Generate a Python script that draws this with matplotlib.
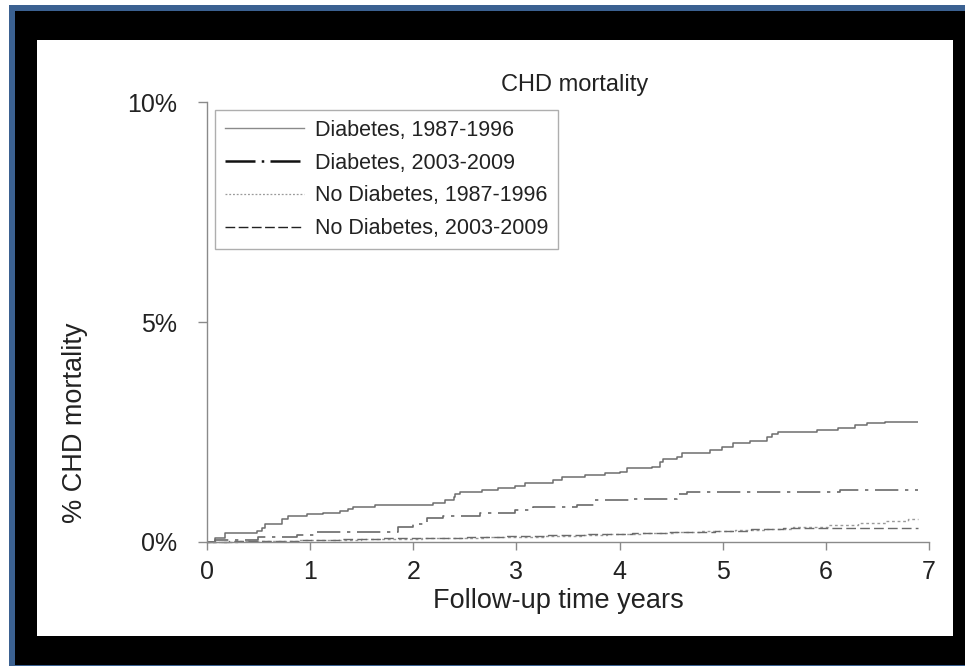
import matplotlib
matplotlib.use("Agg")
import matplotlib.pyplot as plt
from matplotlib.patches import Rectangle
from matplotlib.lines import Line2D

plt.rcParams['font.family'] = ['Liberation Sans', 'DejaVu Sans']

# Cumulative CHD mortality (%) step curves: event times (years) and cumulative values
dm_old_t = [0.0, 0.08, 0.17, 0.48, 0.53, 0.56, 0.73, 0.79, 0.97, 1.12, 1.29, 1.37, 1.42,
            1.63, 2.19, 2.31, 2.39, 2.40, 2.45, 2.67, 2.82, 2.99, 3.08, 3.35, 3.44, 3.66,
            3.86, 4.00, 4.07, 4.31, 4.39, 4.42, 4.56, 4.61, 4.88, 4.99, 5.10, 5.26, 5.43,
            5.48, 5.54, 5.91, 6.12, 6.28, 6.40, 6.57, 6.89]
dm_old_v = [0.0, 0.08, 0.19, 0.25, 0.31, 0.39, 0.51, 0.58, 0.62, 0.66, 0.69, 0.73, 0.79,
            0.83, 0.87, 0.95, 1.01, 1.08, 1.13, 1.17, 1.21, 1.27, 1.33, 1.40, 1.46, 1.51,
            1.55, 1.59, 1.67, 1.70, 1.80, 1.88, 1.93, 2.02, 2.08, 2.16, 2.25, 2.30, 2.39,
            2.46, 2.49, 2.54, 2.59, 2.65, 2.69, 2.73, 2.73]

dm_new_t = [0.0, 0.08, 0.49, 0.87, 1.05, 1.85, 2.00, 2.13, 2.29, 2.65, 2.99, 3.16, 3.59,
            3.76, 4.13, 4.56, 4.65, 6.14, 6.89]
dm_new_v = [0.0, 0.03, 0.10, 0.15, 0.22, 0.32, 0.39, 0.53, 0.58, 0.64, 0.72, 0.78, 0.83,
            0.95, 0.97, 1.08, 1.13, 1.17, 1.17]

nodm_old_t = [0.0, 0.30, 0.62, 0.88, 1.22, 1.49, 1.83, 2.08, 2.41, 2.69, 3.02, 3.28, 3.63,
              3.88, 4.21, 4.52, 4.79, 5.12, 5.41, 5.68, 6.02, 6.31, 6.58, 6.80, 6.89]
nodm_old_v = [0.0, 0.01, 0.02, 0.03, 0.04, 0.05, 0.06, 0.07, 0.08, 0.10, 0.11, 0.13, 0.15,
              0.17, 0.19, 0.21, 0.23, 0.26, 0.29, 0.33, 0.38, 0.43, 0.47, 0.51, 0.51]

nodm_new_t = [0.0, 0.21, 0.52, 0.91, 1.28, 1.71, 2.09, 2.52, 2.88, 3.31, 3.69, 4.12, 4.48,
              4.93, 5.27, 5.58, 6.01, 6.89]
nodm_new_v = [0.0, 0.01, 0.02, 0.04, 0.05, 0.07, 0.09, 0.11, 0.13, 0.15, 0.17, 0.19, 0.22,
              0.25, 0.28, 0.30, 0.31, 0.31]

labels = ["Diabetes, 1987-1996", "Diabetes, 2003-2009",
          "No Diabetes, 1987-1996", "No Diabetes, 2003-2009"]
x_ticks = [0, 1, 2, 3, 4, 5, 6, 7]
y_ticks = [0, 5, 10]
y_tick_labels = ["0%", "5%", "10%"]

W, H = 965, 666
fig = plt.figure(figsize=(W / 100, H / 100), dpi=100)
fig.patch.set_facecolor("white")


def frect(x0, y0, x1, y1, color):
    # rectangle given in pixel coordinates measured from the top-left corner
    fig.patches.append(Rectangle((x0 / W, 1 - y1 / H), (x1 - x0) / W, (y1 - y0) / H,
                                 transform=fig.transFigure, facecolor=color,
                                 edgecolor="none", zorder=-10))


frect(9, 5, W, H, "#3b6191")
frect(15, 11, W, 665, "black")
frect(37, 40, 953, 636, "white")

ax = fig.add_axes([207 / W, 1 - 541.5 / H, (929 - 207) / W, (541.5 - 102.5) / H])
ax.set_facecolor("none")

txt = "#222222"
axcol = "#8a8a8a"

ax.step(dm_old_t, dm_old_v, where="post", color="#6e6e6e", lw=1.1,
        solid_capstyle="butt", clip_on=False)
ax.step(dm_new_t, dm_new_v, where="post", color="#6a6a6a", lw=1.2,
        dashes=(14, 4, 2, 4), clip_on=False)
ax.step(nodm_old_t, nodm_old_v, where="post", color="#9a9a9a", lw=1.0,
        dashes=(2, 2), clip_on=False)
ax.step(nodm_new_t, nodm_new_v, where="post", color="#6a6a6a", lw=1.0,
        dashes=(7, 3), clip_on=False)

ax.set_xlim(0, 7)
ax.set_ylim(0, 10)
for s in ["top", "right"]:
    ax.spines[s].set_visible(False)
for s in ["left", "bottom"]:
    ax.spines[s].set_color(axcol)
    ax.spines[s].set_linewidth(1.0)

ax.set_xticks(x_ticks)
ax.set_xticklabels([str(v) for v in x_ticks])
ax.set_yticks(y_ticks)
ax.set_yticklabels(y_tick_labels)
ax.tick_params(axis="x", direction="out", length=6, width=1.0, color=axcol,
               labelsize=18, labelcolor=txt, pad=7)
ax.tick_params(axis="y", direction="out", length=6.5, width=1.0, color=axcol,
               labelsize=18, labelcolor=txt, pad=15)

fig.text(575 / W, 1 - 85 / H, "CHD mortality", ha="center", va="center",
         fontsize=17, color=txt)
fig.text(558 / W, 1 - 601 / H, "Follow-up time years", ha="center", va="center",
         fontsize=19.5, color=txt)
fig.text(75 / W, 1 - 423 / H, "% CHD mortality", ha="center", va="center",
         rotation=90, fontsize=19.5, color=txt)

# legend handles are drawn darker than the curves
h1 = Line2D([], [], color="#8a8a8a", lw=1.0)
h2 = Line2D([], [], color="#111111", lw=1.8, dashes=(12, 2.5, 1, 2.5))
h3 = Line2D([], [], color="#9a9a9a", lw=0.9, dashes=(1.5, 1.5))
h4 = Line2D([], [], color="#222222", lw=1.0, dashes=(7, 2.5))
leg = ax.legend([h1, h2, h3, h4], labels, loc="upper left",
                bbox_to_anchor=(215 / W, 1 - 110 / H), bbox_transform=fig.transFigure,
                borderaxespad=0, fontsize=15.5, frameon=True, fancybox=False,
                handlelength=3.7, handletextpad=0.5, borderpad=0.45, labelspacing=0.55,
                labelcolor=txt)
leg.get_frame().set_edgecolor("#9a9a9a")
leg.get_frame().set_linewidth(1.0)

fig.savefig("out.png", dpi=100, facecolor=fig.get_facecolor())
